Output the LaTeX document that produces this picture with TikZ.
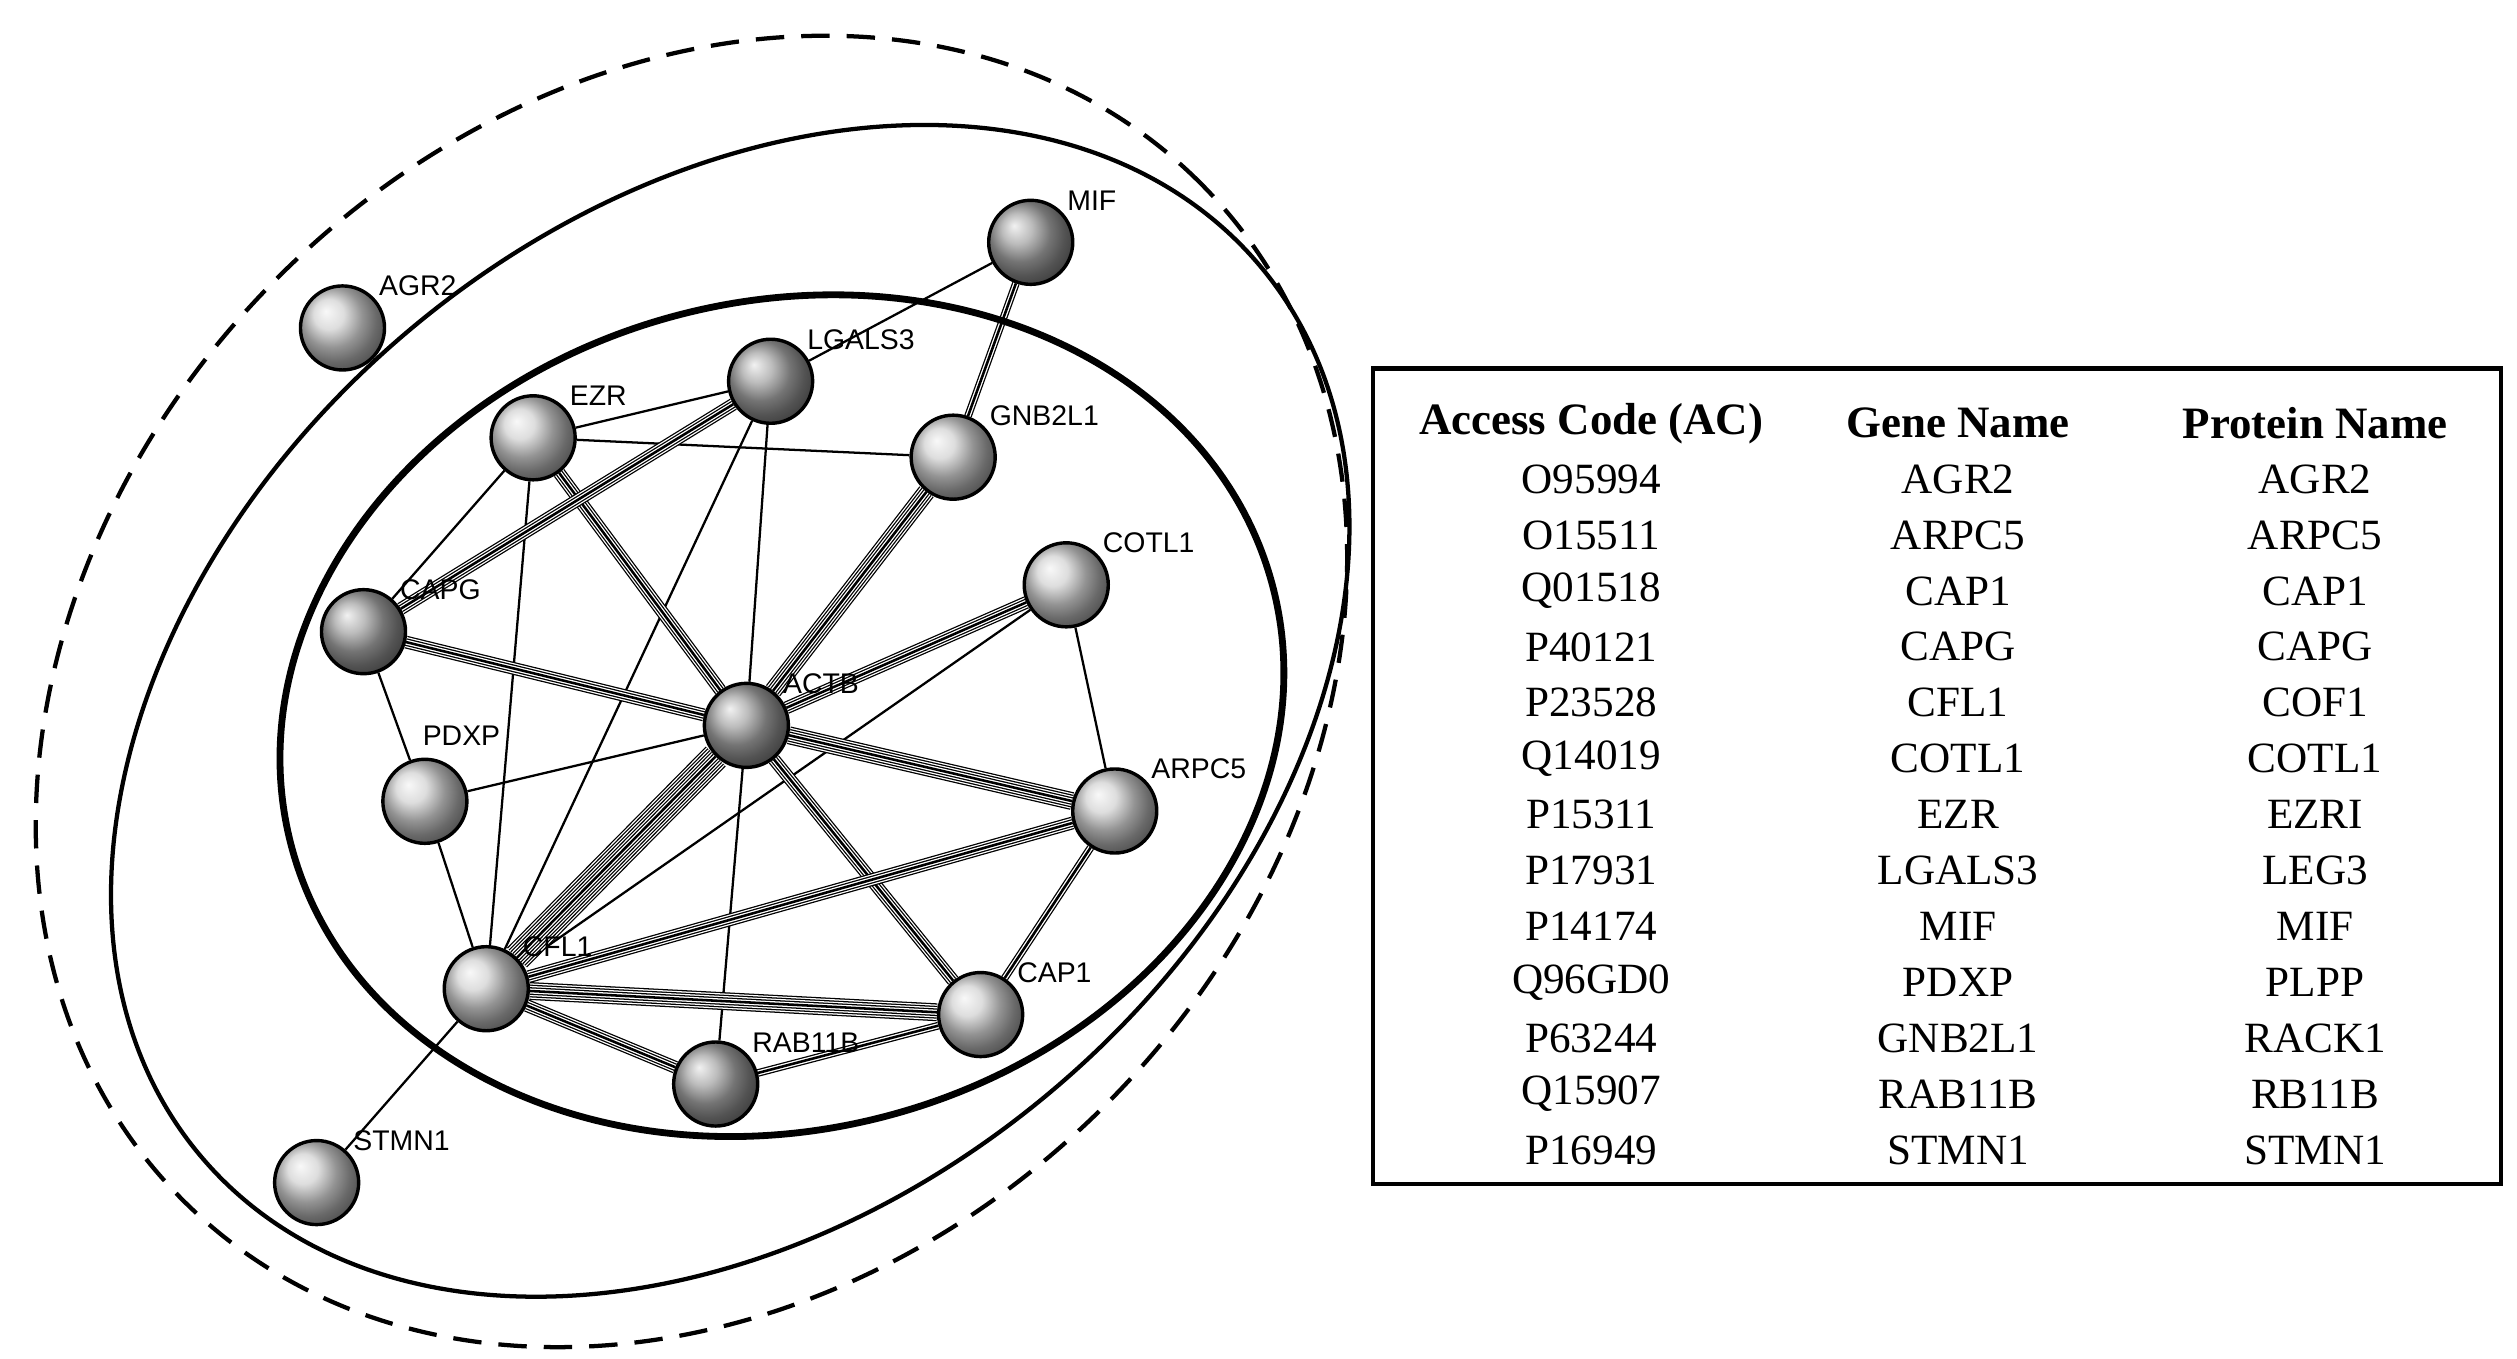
\documentclass[tikz,border=0pt]{standalone}
\usepackage{fontspec}
\setmainfont{Liberation Serif}
\newfontfamily\lblfont{Liberation Sans}
\usetikzlibrary{backgrounds,shadings}
\begin{document}
\begin{tikzpicture}[x=0.01cm,y=-0.01cm,
  prot/.style={circle,draw=black,line width=0.6pt,minimum size=0.52cm,inner sep=0pt,shading=ball,ball color=gray!35},
  dark/.style={prot,ball color=gray!70},
  lbl/.style={font=\lblfont\fontsize{5}{6}\selectfont,anchor=south west,inner sep=0pt},
  s1/.style={draw=black,line width=0.4pt},
  tab/.style={font=\fontsize{7.6}{9}\selectfont,inner sep=0pt},
  th/.style={font=\bfseries\fontsize{7.9}{9}\selectfont,inner sep=0pt}]
\useasboundingbox (0,0) rectangle (1558,840.6);
\newcommand\medge[3]{%
  \pgfmathtruncatemacro\mx{2*#3-2}%
  \foreach \k in {0,...,\mx}{%
    \pgfmathsetmacro\wd{(2*#3-1-\k)*0.45}%
    \pgfmathtruncatemacro\ev{mod(\k,2)}%
    \ifnum\ev=0 \draw[black,line width=\wd pt] (#1) -- (#2);\else \draw[white,line width=\wd pt] (#1) -- (#2);\fi
  }}
% ellipses
\coordinate (cD) at (428,428);
\coordinate (cO) at (452,440);
\coordinate (cI) at (484,443);
\draw[line width=0.75pt,dash pattern=on 5pt off 3pt,rotate around={45:(cD)}] (cD) ellipse [x radius=4.45cm,y radius=3.62cm];
\draw[line width=0.75pt,rotate around={40:(cO)}] (cO) ellipse [x radius=4.28cm,y radius=3.08cm];
\draw[line width=1.2pt,rotate around={15:(cI)}] (cI) ellipse [x radius=3.14cm,y radius=2.56cm];
% nodes
\node[prot] (AGR2) at (212,203) {};
\node[dark] (MIF) at (638,150) {};
\node[dark] (LGALS3) at (477,236) {};
\node[prot] (EZR) at (330,271) {};
\node[prot] (GNB2L1) at (590,283) {};
\node[prot] (COTL1) at (660,362) {};
\node[dark] (CAPG) at (225,391) {};
\node[dark] (ACTB) at (462,449) {};
\node[prot] (PDXP) at (263,496) {};
\node[prot] (ARPC5) at (690,502) {};
\node[prot] (CFL1) at (301,612) {};
\node[prot] (CAP1) at (607,628) {};
\node[dark] (RAB11B) at (443,671) {};
\node[prot] (STMN1) at (196,732) {};
% labels
\foreach \n/\x/\y in {AGR2/212/203,MIF/638/150,LGALS3/477/236,EZR/330/271,GNB2L1/590/283,COTL1/660/362,CAPG/225/391,ACTB/462/449,PDXP/239/481,ARPC5/690/502,CFL1/301/612,CAP1/607/628,RAB11B/443/671,STMN1/196/732}
  \node[lbl] (l\n) at (\x+22,\y-19) {\n};
% edges
\begin{pgfonlayer}{background}
\fill[white] (0,0) rectangle (1558,840.6);
\draw[s1] (EZR) -- (LGALS3);
\draw[s1] (EZR) -- (GNB2L1);
\draw[s1] (EZR) -- (CAPG);
\draw[s1] (EZR) -- (CFL1);
\draw[s1] (LGALS3) -- (MIF);
\draw[s1] (LGALS3) -- (CFL1);
\draw[s1] (LGALS3) -- (ACTB);
\draw[s1] (COTL1) -- (CFL1);
\draw[s1] (COTL1) -- (ARPC5);
\draw[s1] (CAPG) -- (PDXP);
\draw[s1] (PDXP) -- (ACTB);
\draw[s1] (PDXP) -- (CFL1);
\draw[s1] (ACTB) -- (RAB11B);
\draw[s1] (CFL1) -- (STMN1);
\medge{GNB2L1}{MIF}{2}
\medge{EZR}{ACTB}{3}
\medge{ACTB}{CAP1}{3}
\medge{LGALS3}{CAPG}{3}
\medge{GNB2L1}{ACTB}{4}
\medge{COTL1}{ACTB}{3}
\medge{CAPG}{ACTB}{3}
\medge{ACTB}{ARPC5}{4}
\medge{ACTB}{CFL1}{6}
\medge{ARPC5}{CFL1}{3}
\medge{ARPC5}{CAP1}{2}
\medge{CFL1}{CAP1}{4}
\medge{CFL1}{RAB11B}{3}
\medge{RAB11B}{CAP1}{2}
\end{pgfonlayer}
% table
\coordinate (t1) at (850,228);
\coordinate (t2) at (1548,733);
\draw[line width=0.8pt] (t1) rectangle (t2);
\node[th] (h1) at (985,262) {Access Code (AC)};
\node[th] (h2) at (1212,262) {Gene Name};
\node[th] (h3) at (1433,262) {Protein Name};
\foreach \a/\g/\p [count=\i] in {O95994/AGR2/AGR2,O15511/ARPC5/ARPC5,Q01518/CAP1/CAP1,P40121/CAPG/CAPG,P23528/CFL1/COF1,Q14019/COTL1/COTL1,P15311/EZR/EZRI,P17931/LGALS3/LEG3,P14174/MIF/MIF,Q96GD0/PDXP/PLPP,P63244/GNB2L1/RACK1,Q15907/RAB11B/RB11B,P16949/STMN1/STMN1}{
  \node[tab] (a\i) at (985,262+34.6*\i) {\a};
  \node[tab] (g\i) at (1212,262+34.6*\i) {\g};
  \node[tab] (p\i) at (1433,262+34.6*\i) {\p};
}
\end{tikzpicture}
\end{document}
